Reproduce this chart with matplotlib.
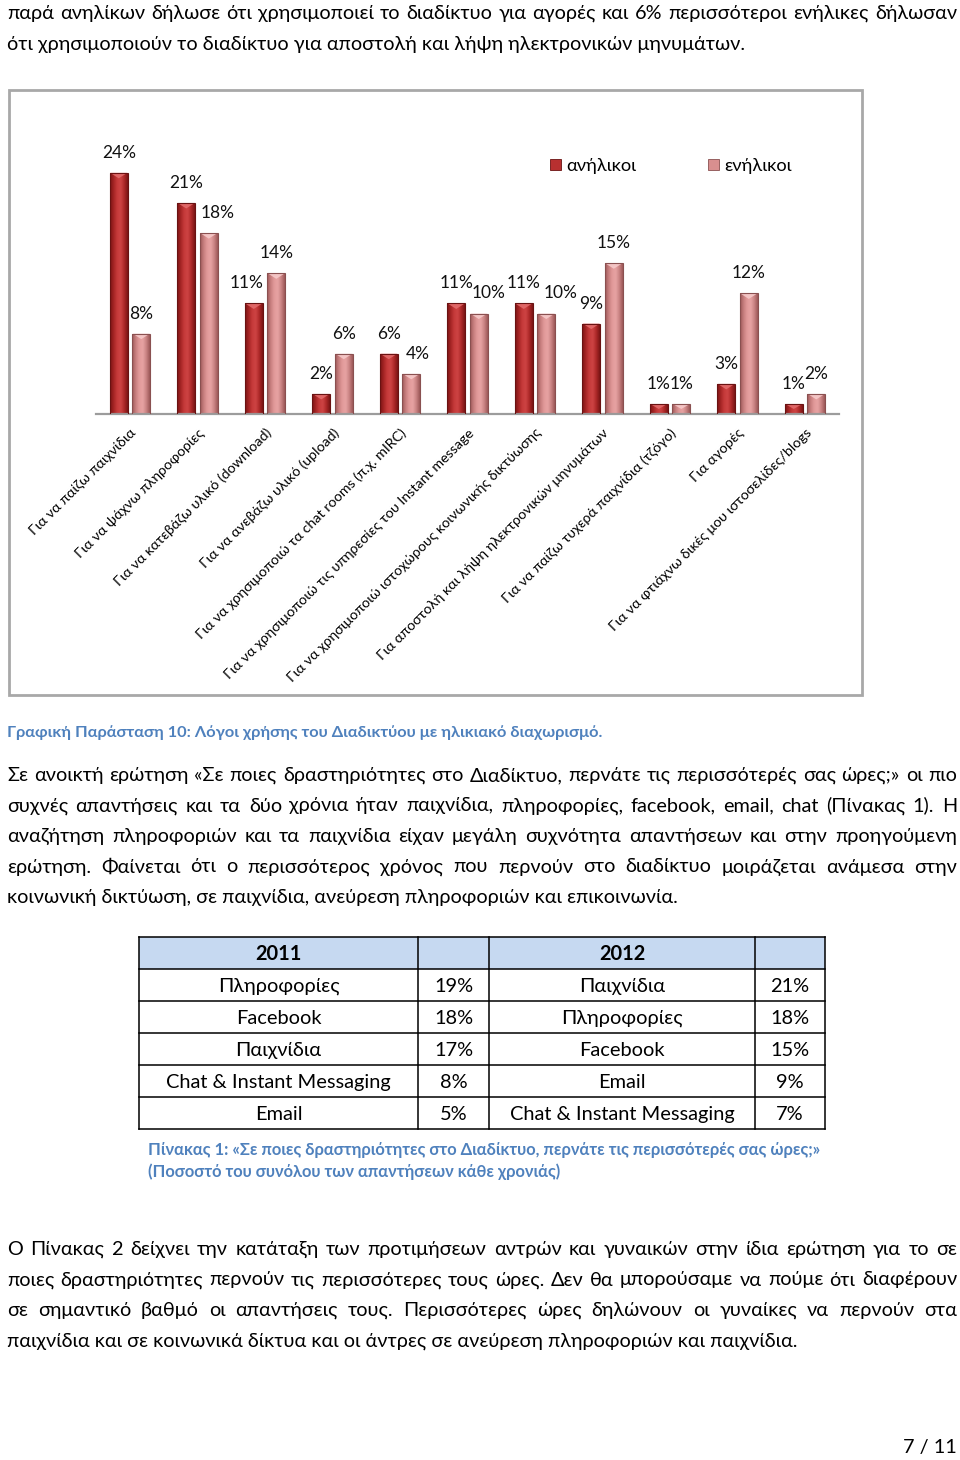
import numpy as np
import matplotlib
matplotlib.use('Agg')
import matplotlib.pyplot as plt
from matplotlib import font_manager
from matplotlib.ft2font import FT2Font
from matplotlib.patches import Rectangle, Polygon, Patch
from matplotlib.colors import LinearSegmentedColormap

# ---------------- data ----------------
categories = [
    'Για να παίζω παιχνίδια',
    'Για να ψάχνω πληροφορίες',
    'Για να κατεβάζω υλικό (download)',
    'Για να ανεβάζω υλικό (upload)',
    'Για να χρησιμοποιώ τα chat rooms (π.χ. mIRC)',
    'Για να χρησιμοποιώ τις υπηρεσίες του Instant message',
    'Για να χρησιμοποιώ ιστοχώρους κοινωνικής δικτύωσης',
    'Για αποστολή και λήψη ηλεκτρονικών μηνυμάτων',
    'Για να παίζω τυχερά παιχνίδια (τζόγο)',
    'Για αγορές',
    'Για να φτιάχνω δικές μου ιστοσελίδες/blogs',
]
minors = [24, 21, 11, 2, 6, 11, 11, 9, 1, 3, 1]
adults = [8, 18, 14, 6, 4, 10, 10, 15, 1, 12, 2]
series_names = ['ανήλικοι', 'ενήλικοι']

table_years = ['2011', '2012']
activities_2011 = ['Πληροφορίες', 'Facebook', 'Παιχνίδια', 'Chat & Instant Messaging', 'Email']
shares_2011 = [19, 18, 17, 8, 5]
activities_2012 = ['Παιχνίδια', 'Πληροφορίες', 'Facebook', 'Email', 'Chat & Instant Messaging']
shares_2012 = [21, 18, 15, 9, 7]

intro_lines = [
    'παρά ανηλίκων δήλωσε ότι χρησιμοποιεί το διαδίκτυο για αγορές και 6% περισσότεροι ενήλικες δήλωσαν',
    'ότι χρησιμοποιούν το διαδίκτυο για αποστολή και λήψη ηλεκτρονικών μηνυμάτων.',
]
chart_caption = 'Γραφική Παράσταση 10: Λόγοι χρήσης του Διαδικτύου με ηλικιακό διαχωρισμό.'
para1_lines = [
    'Σε ανοικτή ερώτηση «Σε ποιες δραστηριότητες στο Διαδίκτυο, περνάτε τις περισσότερές σας ώρες;» οι πιο',
    'συχνές απαντήσεις και τα δύο χρόνια ήταν παιχνίδια, πληροφορίες, facebook, email, chat (Πίνακας 1). Η',
    'αναζήτηση πληροφοριών και τα παιχνίδια είχαν μεγάλη συχνότητα απαντήσεων και στην προηγούμενη',
    'ερώτηση. Φαίνεται ότι ο περισσότερος χρόνος που περνούν στο διαδίκτυο μοιράζεται ανάμεσα στην',
    'κοινωνική δικτύωση, σε παιχνίδια, ανεύρεση πληροφοριών και επικοινωνία.',
]
table_caption_lines = [
    'Πίνακας 1: «Σε ποιες δραστηριότητες στο Διαδίκτυο, περνάτε τις περισσότερές σας ώρες;»',
    '(Ποσοστό του συνόλου των απαντήσεων κάθε χρονιάς)',
]
para2_lines = [
    'Ο Πίνακας 2 δείχνει την κατάταξη των προτιμήσεων αντρών και γυναικών στην ίδια ερώτηση για το σε',
    'ποιες δραστηριότητες περνούν τις περισσότερες τους ώρες.  Δεν θα μπορούσαμε να πούμε ότι διαφέρουν',
    'σε σημαντικό βαθμό οι απαντήσεις τους. Περισσότερες ώρες δηλώνουν οι γυναίκες να περνούν στα',
    'παιχνίδια και σε κοινωνικά δίκτυα και οι άντρες σε ανεύρεση πληροφοριών και παιχνίδια.',
]
page_number = '7 / 11'


# ---------------- font ----------------
def pick_font(cands):
    for name in cands:
        try:
            path = font_manager.findfont(font_manager.FontProperties(family=name),
                                         fallback_to_default=False)
            cmap = FT2Font(path).get_charmap()
        except Exception:
            continue
        if all(ord(c) in cmap for c in 'αλώΓΠΔ«»ή'):
            return name
    return 'DejaVu Sans'


FONT = pick_font(['Lato', 'Open Sans', 'Noto Sans', 'Roboto'])
plt.rcParams['font.family'] = [FONT, 'DejaVu Sans']

W, H = 960, 1460
fig = plt.figure(figsize=(W / 100, H / 100), dpi=100)
fig.patch.set_facecolor('white')
bg = fig.add_axes([0, 0, 1, 1])
bg.set_xlim(0, W)
bg.set_ylim(H, 0)
bg.axis('off')
renderer = fig.canvas.get_renderer()


def measure(s, size, weight='normal'):
    t = bg.text(0, 100, s, fontsize=size, fontweight=weight)
    w = t.get_window_extent(renderer).width
    t.remove()
    return w


def fit(s, target, weight='normal'):
    return 20.0 * target / measure(s, 20.0, weight)


def line(s, x0, y, size, x1=None, weight='normal', color='black', ha='left'):
    if x1 is None:
        bg.text(x0, y, s, fontsize=size, fontweight=weight, color=color,
                va='baseline', ha=ha)
        return
    words = s.split()
    ws = [measure(w, size, weight) for w in words]
    gap = (x1 - x0 - sum(ws)) / (len(words) - 1)
    x = x0
    for w, wd in zip(words, ws):
        bg.text(x, y, w, fontsize=size, fontweight=weight, color=color,
                va='baseline', ha='left')
        x += wd + gap


BLUE = '#4f81bd'
body = fit(intro_lines[1], 738)
cap_size = fit(chart_caption, 594, 'bold')

# ---------------- page text ----------------
line(intro_lines[0], 7, 19, body, x1=957)
line(intro_lines[1], 7, 50, body)
line(chart_caption, 7, 737, cap_size, weight='bold', color=BLUE)
for i, s in enumerate(para1_lines):
    yb = 781 + i * 30.5
    line(s, 7, yb, body, x1=(957 if i < len(para1_lines) - 1 else None))
for i, s in enumerate(para2_lines):
    yb = 1255 + i * 30.5
    line(s, 7, yb, body, x1=(957 if i < len(para2_lines) - 1 else None))
line(page_number, 957, 1453, body, ha='right')

tcap = fit(table_caption_lines[0], 674, 'bold')
line(table_caption_lines[0], 148, 1155, tcap, weight='bold', color=BLUE)
line(table_caption_lines[1], 148, 1177, tcap, weight='bold', color=BLUE)

# ---------------- table ----------------
tx = [139, 418, 489, 755, 825]
ty0, rh = 937, 32
nrows = len(activities_2011) + 1
bg.add_patch(Rectangle((tx[0], ty0), tx[-1] - tx[0], rh, fc='#c6d9f1', ec='none'))
for i in range(nrows + 1):
    bg.plot([tx[0], tx[-1]], [ty0 + i * rh] * 2, color='black', lw=1.1)
for xx in tx:
    bg.plot([xx, xx], [ty0, ty0 + nrows * rh], color='black', lw=1.1)
tsize = fit('Chat & Instant Messaging', 226)
cx = [(tx[k] + tx[k + 1]) / 2 for k in range(4)]
bg.text(cx[0], ty0 + rh / 2 + 7, table_years[0], fontsize=tsize, fontweight='bold',
        ha='center', va='baseline')
bg.text(cx[2], ty0 + rh / 2 + 7, table_years[1], fontsize=tsize, fontweight='bold',
        ha='center', va='baseline')
for r in range(len(activities_2011)):
    yb = ty0 + (r + 1) * rh + rh / 2 + 7
    bg.text(cx[0], yb, activities_2011[r], fontsize=tsize, ha='center', va='baseline')
    bg.text(cx[1], yb, f'{shares_2011[r]}%', fontsize=tsize, ha='center', va='baseline')
    bg.text(cx[2], yb, activities_2012[r], fontsize=tsize, ha='center', va='baseline')
    bg.text(cx[3], yb, f'{shares_2012[r]}%', fontsize=tsize, ha='center', va='baseline')

# ---------------- chart ----------------
bg.add_patch(Rectangle((9, 90), 853, 605, fill=False, ec='#a8a8a8', lw=2))

ax = fig.add_axes([96.25 / W, 1 - 414 / H, 742.5 / W, (414 - 110) / H])
ax.patch.set_alpha(0)
x = np.arange(len(categories))
bw, off = 0.265, 0.167

dark_cmap = LinearSegmentedColormap.from_list(
    'dk', ['#7a1515', '#a52424', '#c63a3a', '#cd4444', '#ad2828', '#7a1515'])
light_cmap = LinearSegmentedColormap.from_list(
    'lt', ['#9c5858', '#c77e7e', '#e29a9a', '#e7a3a3', '#ca8484', '#9c5858'])
grad = np.linspace(0, 1, 64).reshape(1, -1)

bars_d = ax.bar(x - off, minors, bw, color='#b83030', zorder=1, label=series_names[0])
bars_l = ax.bar(x + off, adults, bw, color='#d88f8f', zorder=1, label=series_names[1])

for bars, cmap, tri_c, edge in ((bars_d, dark_cmap, '#e46e6e', '#6a1212'),
                                (bars_l, light_cmap, '#f7cccc', '#8a5050')):
    for b in bars:
        bx, w, h = b.get_x(), b.get_width(), b.get_height()
        im = ax.imshow(grad, extent=[bx, bx + w, 0, h], aspect='auto', cmap=cmap,
                       interpolation='bicubic', zorder=2)
        im.set_clip_path(b)
        d = min(0.55, h * 0.5)
        ax.add_patch(Polygon([[bx + 0.02 * w, h], [bx + 0.98 * w, h], [bx + w / 2, h - d]],
                             closed=True, fc=tri_c, ec='none', alpha=0.85, zorder=3))
        ax.add_patch(Rectangle((bx, 0), w, h, fill=False, ec=edge, lw=0.8, zorder=4))

val_size = fit('24%', 34)
nudge_d = {2: -7}
nudge_l = {1: 9, 4: 7, 5: 10, 6: 14}
for i in range(len(categories)):
    ax.annotate(f'{minors[i]}%', (x[i] - off, minors[i]),
                xytext=(nudge_d.get(i, 0) * 0.72, 20 * 0.72), textcoords='offset points',
                ha='center', va='center', fontsize=val_size, color='#111111')
    ax.annotate(f'{adults[i]}%', (x[i] + off, adults[i]),
                xytext=(nudge_l.get(i, 0) * 0.72, 20 * 0.72), textcoords='offset points',
                ha='center', va='center', fontsize=val_size, color='#111111')

tick_size = fit(categories[5], 345)
ax.set_xticks(x)
ax.set_xticklabels(categories, rotation=45, ha='right', va='top',
                   rotation_mode='anchor', fontsize=tick_size)
ax.tick_params(axis='x', length=0, pad=9)
ax.set_yticks([])
for sp in ('top', 'left', 'right'):
    ax.spines[sp].set_visible(False)
ax.spines['bottom'].set_color('#9c9c9c')
ax.spines['bottom'].set_linewidth(1.6)
ax.set_xlim(-0.5, len(categories) - 0.5)
ax.set_ylim(0, (414 - 110) / 10.05)

leg_size = fit(series_names[0], 70)
handles = [Patch(fc='#b83030', ec='#6a1212', lw=0.6), Patch(fc='#d88f8f', ec='#8a5050', lw=0.6)]
ax.legend(handles, series_names, ncol=2, loc='center',
          bbox_to_anchor=(671 / W, 1 - 166 / H), bbox_transform=fig.transFigure,
          frameon=False, fontsize=leg_size, handlelength=0.6, handleheight=0.6,
          handletextpad=0.3, columnspacing=3.9)

fig.savefig('out.png', dpi=100, facecolor='white')
